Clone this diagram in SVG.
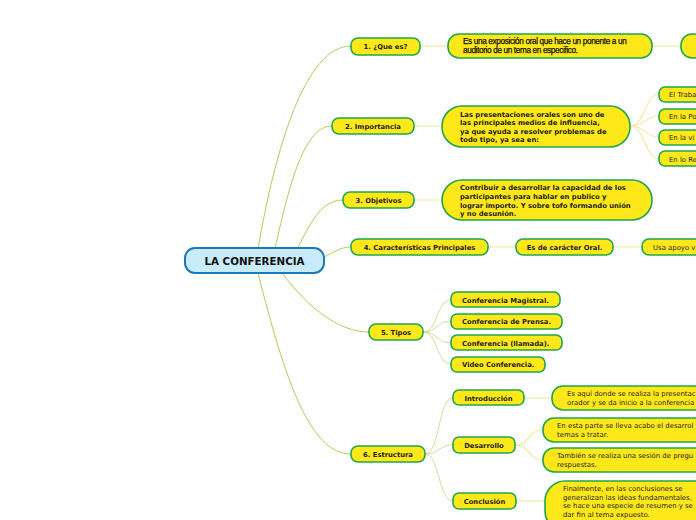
<svg xmlns="http://www.w3.org/2000/svg" width="696" height="520" viewBox="0 0 696 520">
<style>
.n{fill:#ffe81a;stroke:#1fa64a;stroke-width:1.6}
.c{fill:#c8ecfb;stroke:#1b79b8;stroke-width:2}
.l1{fill:none;stroke:#a9d05a;stroke-width:1}
.l2{fill:none;stroke:#f3e9a6;stroke-width:1.2}
.l3{fill:none;stroke:#dcd79c;stroke-width:1}
.b{font-family:"DejaVu Sans",Verdana,sans-serif;font-weight:bold;font-size:6.8px;fill:#222}
.r{font-family:"DejaVu Sans",Verdana,sans-serif;font-size:6.9px;fill:#222}
.a{font-family:"Liberation Sans",Arial,sans-serif;font-size:8.2px;letter-spacing:-0.35px;fill:#111;stroke:#111;stroke-width:0.25}
.t{font-family:"DejaVu Sans",Verdana,sans-serif;font-weight:bold;font-size:10.3px;fill:#111}
</style>
<g id="connectors">
<path class="l1" d="M258,249 C275,150 305,46 351,46"/>
<path class="l1" d="M275,249 C290,180 305,126 332,126"/>
<path class="l1" d="M297,249 C310,225 320,200 343,200"/>
<path class="l1" d="M322,258 C335,252 340,247 351,247"/>
<path class="l1" d="M282,273 C310,310 340,332 369,332"/>
<path class="l1" d="M258,273 C285,380 310,454 351,454"/>
<path class="l2" d="M420,46 L448,46"/>
<path class="l2" d="M652,46 L681,46"/>
<path class="l2" d="M414,126 L442,126"/>
<path class="l2" d="M414,200 L442,200"/>
<path class="l2" d="M488,247 L516,247"/>
<path class="l2" d="M613,247 L642,247"/>
<path class="l2" d="M630,126 C645,126 645,94 659,94"/>
<path class="l2" d="M630,126 C645,126 645,116 659,116"/>
<path class="l2" d="M630,126 C645,126 645,137 659,137"/>
<path class="l2" d="M630,126 C645,126 645,159 659,159"/>
<path class="l3" d="M423,332 C438,332 436,300 451,300"/>
<path class="l3" d="M423,332 C438,332 436,321 451,321"/>
<path class="l3" d="M423,332 C438,332 436,343 451,343"/>
<path class="l3" d="M423,332 C438,332 436,364 451,364"/>
<path class="l3" d="M425,454 C440,454 438,398 453,398"/>
<path class="l3" d="M425,454 C440,454 438,445 453,445"/>
<path class="l3" d="M425,454 C440,454 438,501 453,501"/>
<path class="l2" d="M524,398 L552,398"/>
<path class="l2" d="M515,445 C530,445 528,430 543,430"/>
<path class="l2" d="M515,445 C530,445 528,460 543,460"/>
<path class="l2" d="M516,501 L545,501"/>
</g>
<g id="root"><rect class="c" x="185" y="248" width="139" height="25" rx="10"/><text class="t" x="254.5" y="264.5" text-anchor="middle">LA CONFERENCIA</text></g>
<g id="n1"><rect class="n" x="351" y="38" width="69" height="17" rx="7"/><text class="b" x="385.5" y="49" text-anchor="middle">1. ¿Que es?</text></g>
<g id="n1a"><rect class="n" x="448" y="34" width="204" height="24" rx="11"/><text class="a" x="463" y="44">Es una exposición oral que hace un ponente a un</text><text class="a" x="463" y="53">auditorio de un tema en especifico.</text></g>
<g id="n1b"><rect class="n" x="681" y="34" width="30" height="24" rx="11"/></g>
<g id="n2"><rect class="n" x="332" y="118" width="82" height="16" rx="7"/><text class="b" x="373" y="128.5" text-anchor="middle">2. Importancia</text></g>
<g id="n2a"><rect class="n" x="442" y="106" width="188" height="41" rx="20"/><text class="b" x="460" y="117">Las presentaciones orales son uno de</text><text class="b" x="460" y="125">las principales medios de influencia,</text><text class="b" x="460" y="133.5">ya que ayuda a resolver problemas de</text><text class="b" x="460" y="142">todo tipo, ya sea en:</text></g>
<g id="n2b"><rect class="n" x="659" y="87" width="50" height="15" rx="6"/><text class="r" x="669" y="97">El Traba</text></g>
<g id="n2c"><rect class="n" x="659" y="109" width="50" height="15" rx="6"/><text class="r" x="669" y="119">En la Po</text></g>
<g id="n2d"><rect class="n" x="659" y="130" width="50" height="15" rx="6"/><text class="r" x="669" y="140">En la vi</text></g>
<g id="n2e"><rect class="n" x="659" y="151" width="50" height="15" rx="6"/><text class="r" x="669" y="161.5">En lo Re</text></g>
<g id="n3"><rect class="n" x="343" y="192" width="71" height="16" rx="7"/><text class="b" x="378.5" y="202.5" text-anchor="middle">3. Objetivos</text></g>
<g id="n3a"><rect class="n" x="442" y="180" width="210" height="40" rx="20"/><text class="b" x="460" y="190">Contribuir a desarrollar la capacidad de los</text><text class="b" x="460" y="199">participantes para hablar en publico y</text><text class="b" x="460" y="207.5">lograr importo. Y sobre tofo formando unión</text><text class="b" x="460" y="216">y no desunión.</text></g>
<g id="n4"><rect class="n" x="351" y="239" width="137" height="16" rx="7"/><text class="b" x="419.5" y="249.5" text-anchor="middle">4. Características Principales</text></g>
<g id="n4a"><rect class="n" x="516" y="239" width="97" height="16" rx="7"/><text class="b" x="564.5" y="249.5" text-anchor="middle">Es de carácter Oral.</text></g>
<g id="n4b"><rect class="n" x="642" y="239" width="70" height="16" rx="7"/><text class="r" x="653" y="249.5">Usa apoyo v</text></g>
<g id="n5"><rect class="n" x="369" y="324" width="54" height="16" rx="7"/><text class="b" x="396" y="334.5" text-anchor="middle">5. Tipos</text></g>
<g id="n5a"><rect class="n" x="451" y="292" width="109" height="15" rx="6"/><text class="b" x="462" y="302.5">Conferencia Magistral.</text></g>
<g id="n5b"><rect class="n" x="451" y="314" width="111" height="15" rx="6"/><text class="b" x="462" y="324">Conferencia de Prensa.</text></g>
<g id="n5c"><rect class="n" x="451" y="335" width="111" height="15" rx="6"/><text class="b" x="462" y="345.5">Conferencia (llamada).</text></g>
<g id="n5d"><rect class="n" x="451" y="357" width="94" height="15" rx="6"/><text class="b" x="462" y="367">Video Conferencia.</text></g>
<g id="n6"><rect class="n" x="351" y="446" width="74" height="16" rx="7"/><text class="b" x="388" y="456.5" text-anchor="middle">6. Estructura</text></g>
<g id="n6a"><rect class="n" x="453" y="390" width="71" height="15" rx="6"/><text class="b" x="488.5" y="400.5" text-anchor="middle">Introducción</text></g>
<g id="n6b"><rect class="n" x="453" y="437" width="62" height="16" rx="6"/><text class="b" x="484" y="447.5" text-anchor="middle">Desarrollo</text></g>
<g id="n6c"><rect class="n" x="453" y="493" width="63" height="16" rx="6"/><text class="b" x="484.5" y="503.5" text-anchor="middle">Conclusión</text></g>
<g id="n6a1"><rect class="n" x="552" y="386" width="160" height="24" rx="11"/><text class="r" x="567" y="396">Es aquí donde se realiza la presentac</text><text class="r" x="567" y="405">orador y se da inicio a la conferencia</text></g>
<g id="n6b1"><rect class="n" x="543" y="418" width="170" height="24" rx="11"/><text class="r" x="557" y="428">En esta parte se lleva acabo el desarrol</text><text class="r" x="557" y="437">temas a tratar.</text></g>
<g id="n6b2"><rect class="n" x="543" y="448" width="170" height="24" rx="11"/><text class="r" x="557" y="458">También se realiza una sesión de pregu</text><text class="r" x="557" y="467">respuestas.</text></g>
<g id="n6c1"><rect class="n" x="545" y="481" width="170" height="50" rx="20"/><text class="r" x="563" y="491">Finalmente, en las conclusiones se</text><text class="r" x="563" y="499.5">generalizan las ideas fundamentales,</text><text class="r" x="563" y="508">se hace una especie de resumen y se</text><text class="r" x="563" y="516.5">dar fin al tema expuesto.</text></g>
</svg>
